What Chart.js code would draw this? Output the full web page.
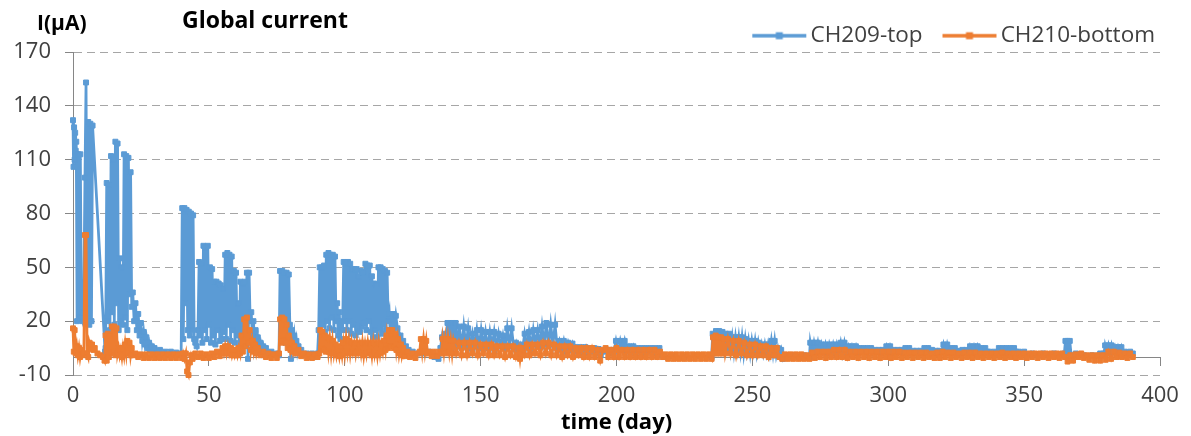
<!DOCTYPE html>
<html>
<head>
<meta charset="utf-8">
<title>Global current</title>
<script src="https://cdn.jsdelivr.net/npm/chart.js@4.4.1/dist/chart.umd.min.js"></script>
<style>
  html, body { margin: 0; padding: 0; background: #fff; }
  canvas { display: block; }
</style>
</head>
<body>
<canvas id="currentChart" width="1191" height="436"></canvas>
<script>
// [day, current µA]
const ch209 = [
  [0,132],[0.2,106],[0.4,128],[0.6,110],[0.8,125],[1,115],[1.2,120],[1.5,20],[1.9,113],[2.3,22],[2.7,113],[3.1,22],[3.5,20],[3.9,25],
  [4.4,100],[4.8,153],[5.2,20],[5.6,131],[6,18],[6.4,130],[6.8,20],[7.2,129],[11.8,3],
  [12,5],[12.4,97],[12.8,20],[13.2,96],[13.6,15],[14,112],[14.4,25],[14.8,110],[15.2,18],[15.6,120],[16,30],[16.4,119],[16.8,15],
  [17.2,55],[17.6,20],[18,50],[18.4,18],[18.8,113],[19.2,22],[19.6,112],[20,15],[20.4,111],[20.8,35],[21.2,103],[21.6,28],
  [22,36],[22.5,20],[23,30],[23.5,15],[24,24],[24.5,12],[25,19],[25.5,9],[26,14],[26.5,7],[27,11],[27.5,5],[28,8],[28.5,4],
  [29,6],[29.5,3],[30,5],[31,2],[32,4],[33,1],[34,3],[35,1],[36,3],[37,1],[38,2.5],[39,1],[39.8,2],
  [40.2,83],[40.6,10],[41,83],[41.4,30],[41.8,82],[42.2,15],[42.6,81],[43,12],[43.4,80],[43.8,15],[44.2,79],[44.6,10],[45,8],[45.5,6],
  [46,15],[46.4,53],[46.8,12],[47.2,52],[47.6,8],[48,62],[48.4,15],[48.8,61],[49.2,10],[49.6,62],[50,18],[50.4,50],[50.8,8],[51.2,49],
  [51.6,12],[52,42],[52.4,7],[52.8,42],[53.2,15],[53.6,41],[54,9],[54.4,40],[54.8,10],[55.2,38],[55.6,14],[56,57],[56.4,10],[56.8,58],
  [57.2,18],[57.6,57],[58,9],[58.4,56],[58.8,15],[59.2,48],[59.6,8],[60,47],[60.4,12],[60.8,30],[61.2,5],[61.6,42],[62,10],[62.4,41],
  [62.8,6],[63.2,42],[63.6,15],[64,47],[64.4,-1],[64.8,47],[65.2,20],[65.6,25],
  [66,12],[66.4,20],[66.8,9],[67.2,15],[67.6,7],[68,11],[68.5,5],[69,8],[69.5,3],[70,6],[70.5,2],[71,5],[72,2],[73,3],[74,1],[75,2],[75.8,1],
  [76.2,48],[76.6,10],[77,48],[77.4,12],[77.8,47],[78.2,8],[78.6,47],[79,15],[79.4,46],[79.8,18],[80.2,-1],[80.6,15],[81,7],[81.4,12],
  [81.8,5],[82.2,9],[82.6,3],[83,6],[83.5,2],[84,4],[85,1],[86,2],[87,0],[88,2],[89,0],[90,2],
  [90.4,15],[90.8,50],[91.2,12],[91.6,50],[92,18],[92.4,51],[92.8,14],[93.2,57],[93.6,20],[94,58],[94.4,16],[94.8,57],[95.2,22],[95.6,57],
  [96,15],[96.4,56],[96.8,20],[97.2,30],[97.6,12],[98,25],[98.4,10],[98.8,20],[99.2,15],[99.6,53],[100,20],[100.4,52],[100.8,15],[101.2,53],
  [101.6,20],[102,52],[102.4,13],[102.8,49],[103.2,18],[103.6,49],[104,12],[104.4,49],[104.8,16],[105.2,45],[105.6,14],[106,48],[106.4,17],
  [106.8,47],[107.2,19],[107.6,52],[108,15],[108.4,51],[108.8,20],[109.2,51],[109.6,14],[110,45],[110.4,11],[110.8,41],[111.2,15],[111.6,40],
  [112,11],[112.4,50],[112.8,16],[113.2,50],[113.6,13],[114,49],[114.4,18],[114.8,48],[115.2,15],[115.6,47],[116,20],[116.4,24],[116.8,12],
  [117.2,24],[117.6,15],[118,24],[118.4,18],[118.8,23],[119.4,16],[120.5,12],[121.5,9],[122.5,6],[123.5,4],[125,3],[127,2],[129,2],[131,3],
  [133,0],[134.5,-1],
  [135.2,5],[135.8,11],[136.3,4],[136.8,13],[137.3,5],[137.8,19],[138.3,6],[138.8,19],[139.3,5],[139.8,19],[140.3,7],[140.8,19],[141.5,6],
  [142.2,17],[143,5],[143.8,17],[144.6,6],[145.4,16],[146.2,5],[147,13],[147.8,6],[148.6,15],[149.4,5],[150.2,15],[151,6],[151.8,14],
  [152.6,5],[153.4,14],[154.2,6],[155,14],[155.8,5],[156.6,13],[157.4,6],[158.2,12],[159,5],[159.8,16],[160.6,6],[161.4,16],[162.2,5],
  [163,8],[163.8,3],[164.6,7],[165.4,4],[166.2,13],[167,6],[167.8,14],[168.6,5],[169.4,15],[170.2,7],[171,15],[171.8,6],[172.6,17],
  [173.4,7],[174.2,19],[175,6],[175.8,18],[176.6,7],[177.4,18],[178.2,5],[179,9],[179.8,4],[180.6,9],[181.4,3],[182.2,8],[183,4],
  [183.8,7.5],[184.6,3],[185.4,5.5],[186.2,2],[187,5.5],[187.8,3],[188.6,5.5],[189.4,2],[190.2,5],[191,3],[191.8,5],[192.6,2],[193.4,4.5],
  [194.2,1],[195,3.5],[195.8,3],[196.6,4],[197.4,2],[198.2,4],[199,3],[199.8,9],[200.6,3],[201.4,9],[202.2,4],[203,9],[203.8,3],
  [204.6,6],[205.4,3],[206.2,6],[207,2],[207.8,5],[208.6,3],[209.4,5],[210.2,2],[211,5],[211.8,3],[212.6,5],[213.4,2],[214.2,5],
  [215,3],[215.8,5],[216.6,1],[217.3,0],[220,0.5],[225,0],[230,0.5],[235,0],
  [235.4,13],[236,3],[236.6,14.5],[237.2,4],[237.8,14.5],[238.4,3],[239,14],[239.6,4],[240.2,13],[240.8,3],[241.4,13],[242,4],[242.6,11],
  [243.2,3],[243.8,11],[244.4,4],[245,11],[245.6,3],[246.2,11],[246.8,2],[247.4,10],[248,3],[248.6,9],[249.2,2],[249.8,9],[250.4,3],
  [251,9],[251.6,2],[252.2,8],[252.8,3],[253.4,7],[254,2],[254.6,7],[255.2,2],[255.8,7],[256.4,2],[257,9],[257.6,2],[258.2,9],[258.8,1],
  [259.4,5],[260,1],[260.6,4],[261.2,-1],[262,1],[263,0],[265,1],[267,0],[269,1],[271,0],
  [271.3,8],[272,2],[272.7,8],[273.4,3],[274.1,8],[274.8,2],[275.5,7],[276.2,3],[276.9,7],[277.6,2],[278.3,7],[279,3],[279.7,7],[280.4,2],
  [281.1,7],[281.8,3],[282.5,8],[283.2,2],[283.9,8],[284.6,3],[285.3,6],[286,2],[286.7,6],[287.4,3],[288.1,6],[288.8,2],[289.5,5],
  [290.2,3],[290.9,5],[291.6,2],[292.3,5],[293,3],[293.7,5],[294.4,2],[295.1,4],[295.8,3],[296.5,4],[297.2,2],[297.9,4],[298.6,3],
  [299.3,6],[300,2],[300.7,6],[301.4,3],[302.1,4],[302.8,2],[303.5,4],[304.2,3],[304.9,4],[305.6,2],[306.3,5],[307,3],[307.7,5],
  [308.4,2],[309.1,3.5],[309.8,2],[310.5,3.5],[311.2,3],[311.9,3.5],[312.6,2],[313.3,5],[314,3],[314.7,5],[315.4,2],[316.1,4],[316.8,3],
  [317.5,3.5],[318.2,2],[318.9,3.5],[319.6,3],[320.3,7],[321,2],[321.7,7],[322.4,3],[323.1,5],[323.8,2],[324.5,5],[325.2,3],[325.9,3.5],
  [326.6,2],[327.3,4],[328,3],[328.7,4],[329.4,2],[330.1,6],[330.8,3],[331.5,6],[332.2,2],[332.9,6],[333.6,3],[334.3,5],[335,2],
  [335.7,5],[336.4,3],[337.1,3],[338,2],[339,3],[340,2],[340.7,5],[341.4,3],[342.1,5],[342.8,2],[343.5,5],[344.2,3],[344.9,5],[345.6,2],
  [346.3,5],[347,3],[348,3],[349,2],[350,3],[351,1],[353,2],[355,1],[357,2],[359,1],[361,2],[363,1],[364.8,2],[365.2,9],[365.6,2],
  [366,9],[366.4,3],[366.8,9],[367.3,1],[369,2],[372,1],[375,1],[378,2],[379.4,2],[379.8,6.5],[380.4,3],[381,6.5],[381.6,2],[382.2,6.5],
  [382.8,3],[383.4,5.5],[384,2],[384.6,5.5],[385.2,3],[385.8,5.5],[386.4,2],[387,3],[388,2],[389,3],[390,2]
];

const ch210 = [
  [0,16],[0.3,3],[0.6,15],[1,2],[1.4,6],[1.8,1],[2.2,5],[2.6,0],[3,4],[3.5,1],[4,2],[4.4,68],[4.8,68],[5.2,2],[5.6,0],[6,8],[6.5,5],
  [7,7],[7.5,4],[8,5],[9,2],[10,1],[11,0],
  [11.6,-2],[12,12],[12.4,-2],[12.8,13],[13.2,0],[13.6,12],[14,2],[14.4,17],[14.8,3],[15.2,17],[15.6,1],[16,16],[16.4,2],[16.8,5],
  [17.2,1],[17.6,4],[18,0],[18.4,5],[18.8,1],[19.2,7],[19.6,2],[20,9],[20.4,2],[20.8,8],[21.2,1],[21.6,5],[22.2,1],
  [23,2],[24,0],[25,1.5],[26,-0.5],[27,1.5],[28,-0.5],[29,1.5],[30,-0.5],[31,1.5],[32,-0.5],[33,1.5],[34,-0.5],[35,1.5],[36,-0.5],
  [37,1.5],[38,-0.5],[39,1.5],[40,-0.5],[40.5,2],[41,-1],[41.5,2],[42,-8],[42.5,-10],[43,-3],[43.5,1],[44,-1],[45,2],[46,0],[47,2],
  [48,-0.5],[49,1.5],[50,-0.5],[51,2],[52,0],[53,3],[54,0.5],[55,5],[55.5,2],[56,6],[56.5,2],[57,6],[57.5,2],[58,5],[58.5,1],[59,4],
  [59.5,1],[60,4],[60.5,1],[61,5],[61.5,2],[62,12],[62.5,3],[63,21],[63.5,6],[64,22],[64.5,8],[65,15],[65.5,4],[66,9],[66.5,3],[67,7],
  [67.5,2],[68,5],[69,1],[70,3],[71,0],[72,2],[73,-0.5],[74,1.5],[75,-0.5],
  [75.8,2],[76.2,21],[76.6,8],[77,22],[77.4,9],[77.8,21],[78.2,8],[78.6,18],[79,5],[79.4,12],[80,4],[80.5,8],[81,3],[81.5,6],[82,2],
  [83,4],[84,0.5],[85,2],[86,-0.5],[87,1.5],[88,-0.5],[89,1.5],[90,0],
  [90.6,2],[91,15],[91.4,5],[91.8,14],[92.2,4],[92.6,12],[93,3],[93.5,11],[94,3],[94.5,10],[95,2],[95.5,9],[96,2],[96.5,7],[97,1],
  [97.5,5],[98,0.5],[98.5,6],[99,1],[99.5,8],[100,2],[100.5,10],[101,3],[101.5,9],[102,2],[102.5,8],[103,3],[103.5,7],[104,2],[104.5,8],
  [105,3],[105.5,7],[106,2],[106.5,8],[107,1],[107.5,7],[108,2],[108.5,8],[109,3],[109.5,7],[110,1],[110.5,8],[111,2],[111.5,7],[112,1],
  [112.5,8],[113,2],[113.5,7],[114,3],[114.5,9],[115,4],[115.5,12],[116,5],[116.5,15],[117,6],[117.5,15],[118,5],[118.5,13],[119,4],
  [119.5,10],[120,2],[120.5,7],[121,1],[121.5,5],[122,0.5],[123,3],[124,0],[125,2],[126,-0.5],[127,2],
  [127.6,3],[128,10],[128.5,3],[129,10],[129.5,3],[130,9],[130.5,2],[131,3],[132,0.5],[133,3],[134,0.5],[135,3],
  [135.5,2],[136,10],[136.5,3],[137,10],[137.5,2],[138,10],[138.5,3],[139,9],[139.5,2],[140,9],[141,2],[142,8],[143,1],[144,8],[145,1],
  [146,8],[147,2],[148,8],[149,1],[150,7],[151,2],[152,7],[153,1],[154,7],[155,1],[156,6],[157,1],[158,6],[159,0],[160,6],[161,1],
  [162,6],[163,0],[164,5],[164.5,-1],[165,5],[166,1],[167,7],[168,1],[169,7],[170,2],[171,7],[172,1],[173,8],[174,2],[175,8],[176,1],
  [177,7],[178,1],[179,6],[180,0],[181,6],[182,1],[183,6],[184,0],[185,5],[186,1],[187,5],[188,0],[189,5],[190,0],[191,5],[192,0],
  [193,4],[194,-2],[195,4],[196,5],[197,0],[198,4],[199,0],[200,5],[201,0],[202,4],[203,0],[204,4],[205,0],[206,4],[207,0],[208,4],
  [209,0],[210,4],[211,0],[212,4],[213,0],[214,4],[215,0],[216,3],[217,0],
  [218,1.5],[219,-1],[220,1.5],[221,-1],[222,1.5],[223,-1],[224,1.5],[225,-1],[226,1.5],[227,-1],[228,1.5],[229,-1],[230,1.5],[231,-1],
  [232,1.5],[233,-1],[234,1.5],[235,-1],
  [235.5,11],[236,2],[236.5,12],[237,2],[237.5,11],[238,2],[238.5,11],[239,2],[239.5,10],[240,2],[241,10],[242,2],[243,9],[244,1],
  [245,9],[246,2],[247,8],[248,1],[249,7],[250,1],[251,7],[252,1],[253,6],[254,1],[255,6],[256,0],[257,5],[258,1],[259,5],[260,0],
  [261,-1],[262,1.5],[263,-1],[264,1.5],[265,-1],[266,1.5],[267,-1],[268,1.5],[269,-1],[270,1],[271,-1],
  [272,2.5],[273,-0.5],[274,3],[275,0],[276,3],[277,-0.5],[278,3],[279,0],[280,4],[281,0],[282,4],[283,0],[284,4],[285,-0.5],[286,3],
  [287,0],[288,3],[289,-0.5],[290,3],[291,0],[292,3],[293,-0.5],[294,3],[295,0],[296,3],[297,-0.5],[298,3],[299,0],[300,3],[301,-0.5],
  [302,3],[303,0],[304,3],[305,-0.5],[306,2.5],[307,0],[308,2.5],[309,-0.5],[310,2.5],[311,0],[312,2.5],[313,-0.5],[314,2.5],[315,0],
  [316,2],[317,-0.5],[318,2.5],[319,-0.5],[320,3],[321,0],[322,2.5],[323,-0.5],[324,2.5],[325,0],[326,2],[327,-0.5],[328,2.5],[329,0],
  [330,2.5],[331,-0.5],[332,2.5],[333,0],[334,2],[335,-0.5],[336,2],[337,0],[338,2],[339,-0.5],[340,2],[341,0],[342,2.5],[343,-0.5],
  [344,2],[345,0],[346,2],[347,-0.5],[348,2],[349,0],[350,2],[351,-0.5],[352,2],[353,0],[354,2],[355,-0.5],[356,2],[357,0],[358,2],
  [359,-0.5],[360,2],[361,0],[362,2],[363,-0.5],[364,2],[365,0],[366,-2.5],[367,1],[368,-2],[369,1.5],[370,0],[371,2],[372,-0.5],
  [373,1],[374,-1.5],[375,1],[376,-2],[377,1],[378,-2],[379,1],[380,-1.5],[381,3],[382,-1],[383,3],[384,0],[385,2.5],[386,0],[387,2],
  [388,-0.5],[389,2],[390,0]
];

const seriesNames = ["CH209-top", "CH210-bottom"];
const seriesColors = ["#5b9bd5", "#ed7d31"];
const chartTitle = "Global current";
const yTitle = "I(\u00b5A)";
const xTitle = "time (day)";

Chart.defaults.font.family = '"Open Sans", "DejaVu Sans", sans-serif';

// Excel-like legend key: short line with a square marker
const makeLegendIcon = (color) => {
  const icon = document.createElement("canvas");
  icon.width = 110;
  icon.height = 12;
  const c = icon.getContext("2d");
  c.strokeStyle = color;
  c.lineWidth = 3.5;
  c.beginPath();
  c.moveTo(41, 6);
  c.lineTo(95, 6);
  c.stroke();
  c.fillStyle = color;
  c.fillRect(64.5, 2.5, 7, 7);
  return icon;
};
const legendIcons = seriesColors.map(makeLegendIcon);

const headerText = {
  id: "headerText",
  afterDraw(chart) {
    const ctx = chart.ctx;
    ctx.save();
    ctx.fillStyle = "#000";
    ctx.textBaseline = "alphabetic";
    ctx.font = 'bold 21px "Open Sans"';
    ctx.fillText(yTitle, 37, 30);
    ctx.font = 'bold 23px "Open Sans"';
    ctx.fillText(chartTitle, 182, 28);
    ctx.restore();
  },
};

// the legend sits a little lower and further left than Chart.js puts it
const legendNudge = {
  id: "legendNudge",
  afterLayout(chart) {
    const lg = chart.legend;
    lg.top += 5;
    lg.bottom += 5;
    lg.left -= 4;
    lg.right -= 4;
  },
};

const makeDataset = (label, points, color, order) => ({
  label: label,
  data: points.map(([x, y]) => ({ x, y })),
  borderColor: color,
  backgroundColor: color,
  borderWidth: 2.75,
  pointStyle: "rect",
  pointRadius: 3.5,
  pointBorderWidth: 1,
  pointBackgroundColor: color,
  pointBorderColor: color,
  tension: 0,
  order: order,
  clip: false,
});

new Chart(document.getElementById("currentChart"), {
  type: "line",
  data: {
    datasets: [
      makeDataset(seriesNames[0], ch209, seriesColors[0], 1),
      makeDataset(seriesNames[1], ch210, seriesColors[1], 0),
    ],
  },
  options: {
    responsive: false,
    animation: false,
    layout: { padding: { top: 18.5, right: 31, bottom: 0, left: 0 } },
    plugins: {
      tooltip: { enabled: false },
      legend: {
        position: "top",
        align: "end",
        labels: {
          usePointStyle: true,
          pointStyleWidth: 66,
          boxHeight: 12,
          padding: 1,
          color: "#404040",
          font: { size: 22.5 },
          sort: (a, b) => a.datasetIndex - b.datasetIndex,
          generateLabels: (chart) =>
            Chart.defaults.plugins.legend.labels
              .generateLabels(chart)
              .map((item) => ({ ...item, pointStyle: legendIcons[item.datasetIndex] })),
        },
      },
    },
    scales: {
      x: {
        type: "linear",
        min: 0,
        max: 400,
        ticks: { stepSize: 50, color: "#404040", font: { size: 22 }, padding: 0 },
        grid: { display: false },
        border: { display: false },
        title: {
          display: true,
          text: xTitle,
          color: "#000",
          font: { size: 22, weight: "bold" },
          padding: { top: 0, bottom: 0 },
        },
        afterFit: (scale) => {
          scale.height = 61;
        },
      },
      x2: {
        type: "linear",
        min: 0,
        max: 400,
        position: { y: 0 },
        ticks: { stepSize: 50, display: false },
        grid: { drawOnChartArea: false, tickLength: 8, color: "#868686" },
        border: { color: "#868686", width: 1 },
      },
      y: {
        min: -10,
        max: 170,
        ticks: { stepSize: 30, color: "#404040", font: { size: 22 }, padding: 14 },
        grid: { color: "#a6a6a6", tickLength: 8, tickColor: "#868686" },
        border: { color: "#868686", dash: [8, 5] },
        afterFit: (scale) => {
          scale.width = 73;
        },
      },
    },
  },
  plugins: [headerText, legendNudge],
});
</script>
</body>
</html>
